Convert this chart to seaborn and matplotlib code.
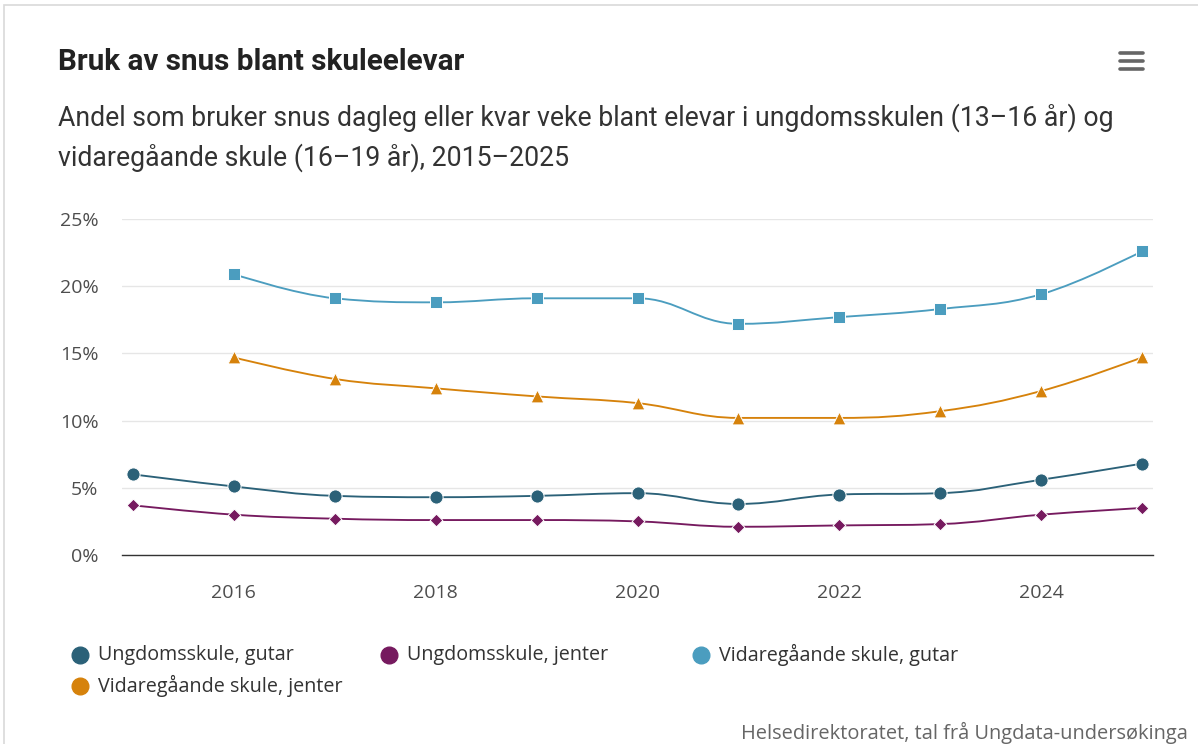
import numpy as np
import pandas as pd
import seaborn as sns
import matplotlib.pyplot as plt
from matplotlib.path import Path
from matplotlib.patches import PathPatch, Rectangle
from matplotlib.lines import Line2D

years = list(range(2015, 2026))
ungdom_gutar = [6.0, 5.1, 4.4, 4.3, 4.4, 4.6, 3.8, 4.5, 4.6, 5.6, 6.8]
ungdom_jenter = [3.7, 3.0, 2.7, 2.6, 2.6, 2.5, 2.1, 2.2, 2.3, 3.0, 3.5]
vgs_gutar = [np.nan, 20.9, 19.1, 18.8, 19.1, 19.1, 17.2, 17.7, 18.3, 19.4, 22.6]
vgs_jenter = [np.nan, 14.7, 13.1, 12.4, 11.8, 11.3, 10.2, 10.2, 10.7, 12.2, 14.7]

series_names = ["Ungdomsskule, gutar", "Ungdomsskule, jenter",
                "Vidaregåande skule, gutar", "Vidaregåande skule, jenter"]
colors = ["#2b6178", "#761a5f", "#4b9dbf", "#d6820b"]
markers = ["o", "D", "s", "^"]
marker_sizes = [90, 42, 85, 85]
x_ticks = [2016, 2018, 2020, 2022, 2024]
y_ticks = [0, 5, 10, 15, 20, 25]

title = "Bruk av snus blant skuleelevar"
subtitle = ("Andel som bruker snus dagleg eller kvar veke blant elevar i ungdomsskulen (13\u201316 år) og\n"
            "vidaregåande skule (16\u201319 år), 2015\u20132025")
source = "Helsedirektoratet, tal frå Ungdata-undersøkinga"

df = pd.DataFrame({"year": years * 4,
                   "value": ungdom_gutar + ungdom_jenter + vgs_gutar + vgs_jenter,
                   "serie": sum([[n] * len(years) for n in series_names], [])}).dropna()


def spline_path(xs, ys, smoothing=1.5):
    # Highcharts-style spline: cubic bezier segments with smoothed control points
    n = len(xs)
    right = [None] * n
    left = [None] * n
    denom = smoothing + 1
    for i in range(1, n - 1):
        px, py = xs[i], ys[i]
        lx, ly = xs[i - 1], ys[i - 1]
        nx, ny = xs[i + 1], ys[i + 1]
        lcx = (smoothing * px + lx) / denom
        lcy = (smoothing * py + ly) / denom
        rcx = (smoothing * px + nx) / denom
        rcy = (smoothing * py + ny) / denom
        corr = (rcy - lcy) * (rcx - px) / (rcx - lcx) + py - rcy
        lcy += corr
        rcy += corr
        if lcy > ly and lcy > py:
            lcy = max(ly, py)
            rcy = 2 * py - lcy
        elif lcy < ly and lcy < py:
            lcy = min(ly, py)
            rcy = 2 * py - lcy
        if rcy > ny and rcy > py:
            rcy = max(ny, py)
            lcy = 2 * py - rcy
        elif rcy < ny and rcy < py:
            rcy = min(ny, py)
            lcy = 2 * py - rcy
        left[i] = (lcx, lcy)
        right[i] = (rcx, rcy)
    verts = [(xs[0], ys[0])]
    codes = [Path.MOVETO]
    for i in range(1, n):
        c1 = right[i - 1] if right[i - 1] is not None else (xs[i - 1], ys[i - 1])
        c2 = left[i] if left[i] is not None else (xs[i], ys[i])
        verts += [c1, c2, (xs[i], ys[i])]
        codes += [Path.CURVE4] * 3
    return Path(verts, codes)


W, H = 1198, 744
fig = plt.figure(figsize=(W / 100, H / 100), dpi=100)
sns.set_style("white")
plt.rcParams["font.family"] = ["Open Sans", "DejaVu Sans"]

ax = fig.add_axes([122 / W, 1 - 555 / H, (1153 - 122) / W, (555 - 219) / H])

for name, col, mk, ms in zip(series_names, colors, markers, marker_sizes):
    sub = df[df["serie"] == name]
    path = spline_path(sub["year"].tolist(), sub["value"].tolist())
    ax.add_patch(PathPatch(path, facecolor="none", edgecolor=col, lw=1.35, zorder=2))
    sns.scatterplot(data=sub, x="year", y="value", color=col, marker=mk, s=ms,
                    edgecolor="white", linewidth=0.7, ax=ax, zorder=3, legend=False)

ax.set_xlim(2015 - 11 / 100.8, 2025 + 11 / 100.8)
ax.set_ylim(0, 25)
ax.set_xticks(x_ticks)
ax.set_xticklabels([str(x) for x in x_ticks])
ax.set_yticks(y_ticks)
ax.set_yticklabels([f"{v}%" for v in y_ticks])
ax.set_xlabel("")
ax.set_ylabel("")
ax.grid(axis="y", color="#e6e6e6", lw=1)
ax.grid(axis="x", visible=False)
for s in ["top", "right", "left"]:
    ax.spines[s].set_visible(False)
ax.spines["bottom"].set_color("#333333")
ax.spines["bottom"].set_linewidth(1.0)
ax.tick_params(axis="x", length=12, width=1, color="#333333", pad=9,
               labelsize=14, labelcolor="#4d4d4d")
ax.tick_params(axis="y", length=0, pad=17, labelsize=14, labelcolor="#4d4d4d")
ax.set_axisbelow(True)

# titles
fig.text(58 / W, 1 - 62 / H, title, fontsize=21.3, fontweight="bold", color="#222222",
         family="Roboto", va="center", ha="left")
fig.text(58 / W, 1 - 138 / H, subtitle, fontsize=19.2, color="#333333",
         family="Roboto", va="center", ha="left", linespacing=1.5)

# menu icon
for yy in [53, 61, 69]:
    fig.add_artist(Line2D([1120 / W, 1143 / W], [1 - yy / H, 1 - yy / H], color="#666666",
                          lw=2.6, solid_capstyle="round", transform=fig.transFigure))

# legend
leg_pos = [(80, 655), (389, 655), (701, 655), (80, 686)]
for (lx, ly), name, col in zip(leg_pos, series_names, colors):
    fig.add_artist(Line2D([lx / W], [1 - ly / H], marker="o", markersize=12, color=col,
                          lw=0, transform=fig.transFigure))
    fig.text((lx + 18) / W, 1 - ly / H, name, fontsize=14.2, color="#333333",
             va="center", ha="left")

fig.text(1188 / W, 1 - 733 / H, source, fontsize=14.4, color="#666666", va="center", ha="right")

# outer border
fig.patches.append(Rectangle((4 / W, -0.1), 1.2, 1 - 4.5 / H + 0.1, transform=fig.transFigure,
                             facecolor="none", edgecolor="#d9d9d9", lw=1.2))

fig.savefig("out.png", dpi=100)
